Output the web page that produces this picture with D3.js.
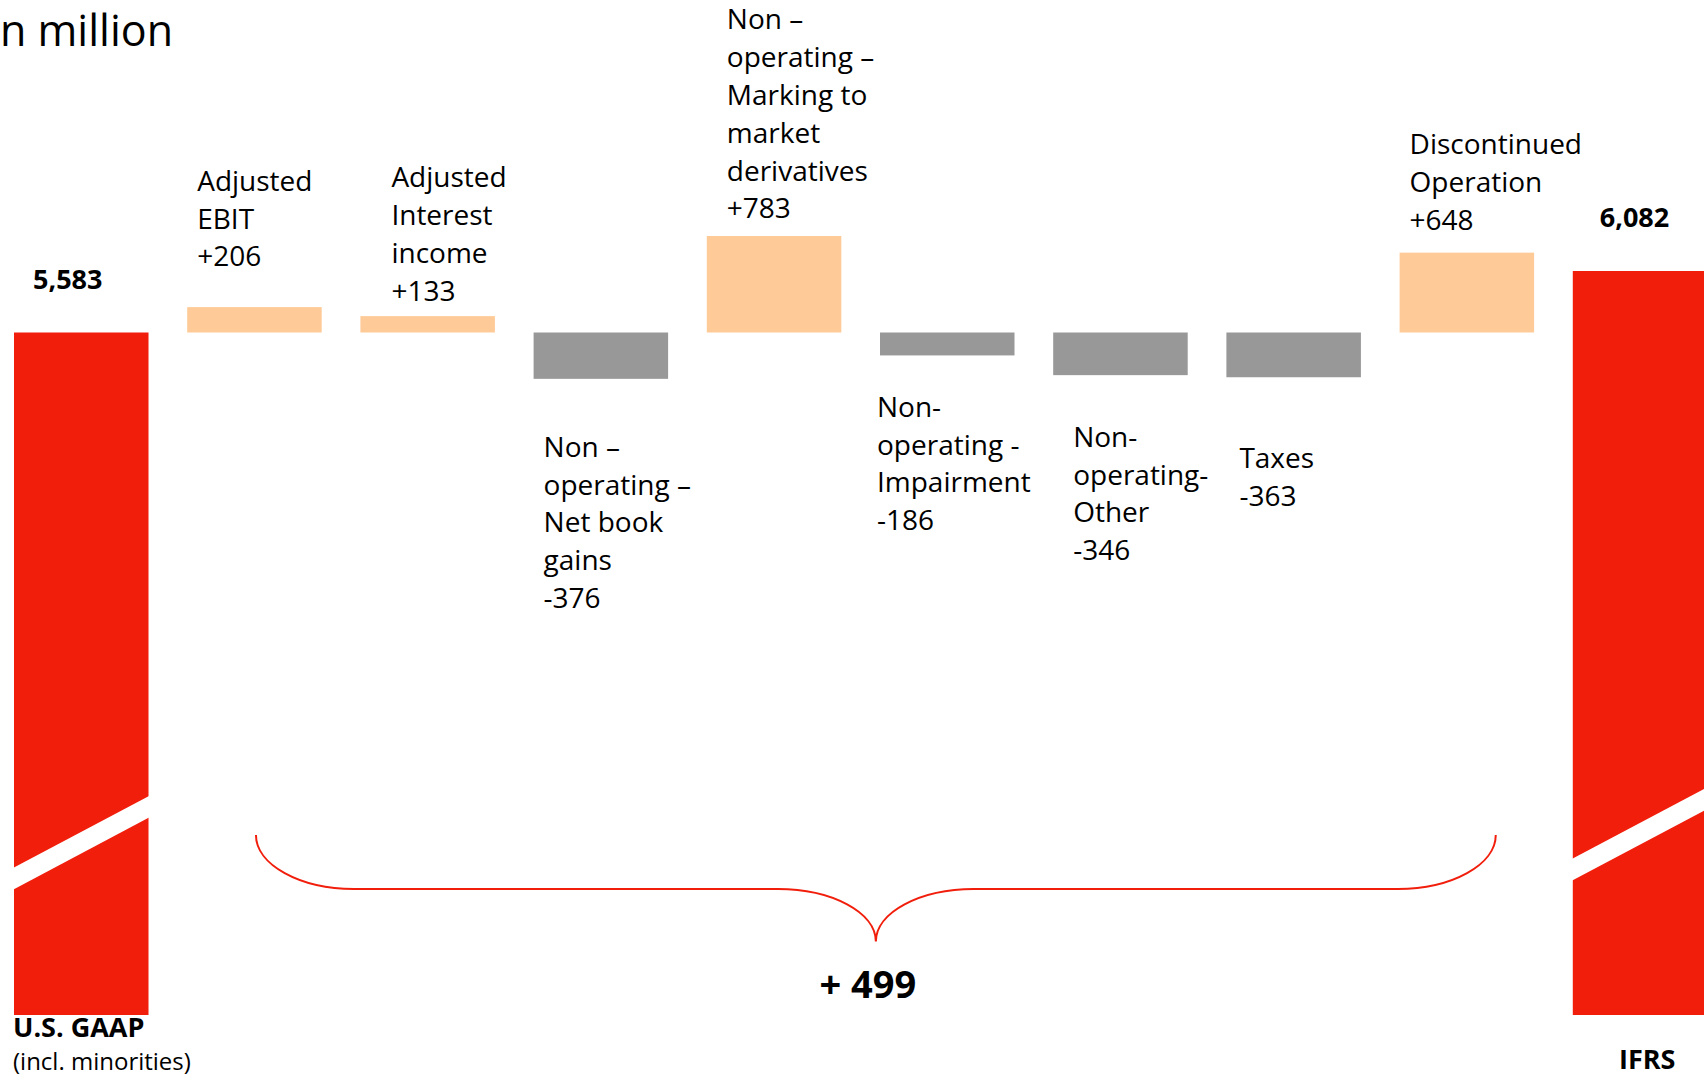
<!DOCTYPE html>
<html>
<head>
<meta charset="utf-8">
<script src="https://cdn.jsdelivr.net/npm/d3@7"></script>
<style>
  html, body { margin: 0; padding: 0; background: #fff; overflow: hidden; }
  svg { display: block; font-family: "Open Sans", "Noto Sans", sans-serif; }
</style>
</head>
<body>
<svg id="chart" width="1704" height="1077"></svg>
<script>
// Reconciliation values (EUR million)
const totalNames = ["U.S. GAAP", "IFRS"];
const totalNotes = ["(incl. minorities)", ""];
const totalValues = [5583, 6082];

const stepLabels = [
  ["Adjusted", "EBIT"],
  ["Adjusted", "Interest", "income"],
  ["Non –", "operating –", "Net book", "gains"],
  ["Non –", "operating –", "Marking to", "market", "derivatives"],
  ["Non-", "operating -", "Impairment"],
  ["Non-", "operating-", "Other"],
  ["Taxes"],
  ["Discontinued", "Operation"]
];
const stepValues = [206, 133, -376, 783, -186, -346, -363, 648];

// Colours
const RED = "#F11E0C", PEACH = "#FECB98", GREY = "#989898";

// Label layout: horizontal offset from the bar and first-line baseline
const labelDx = [10, 31, 10, 20, -3, 20, 13, 10];
const labelTop = [190.7, 187.3, 456.7, 29.3, 416.7, 446.7, 468.3, 154];
const lineGap = 37.8;

const svg = d3.select("#chart");

const slots = ["start"].concat(stepValues.map((_, i) => "s" + i), ["end"]);
const x = d3.scaleBand().domain(slots).range([14, 1707.3]).paddingInner(0.2234).paddingOuter(0);
const bw = x.bandwidth();

// Value scale around the starting total; the totals are drawn with a broken axis
const base = totalValues[0];
const y = d3.scaleLinear().domain([totalValues[0], totalValues[1]]).range([332.5, 271]);
const plotBottom = 1015;

// Title (partly outside the page on the left)
svg.append("text").attr("x", 0).attr("y", 45.5)
  .attr("font-size", 43).attr("fill", "#000").text("n million");

// Total bars
const totals = totalValues.map((v, i) => ({ v, name: totalNames[i], note: totalNotes[i], key: i === 0 ? "start" : "end" }));
svg.selectAll("rect.total").data(totals).join("rect")
  .attr("class", "total")
  .attr("x", d => x(d.key)).attr("width", bw)
  .attr("y", d => y(d.v)).attr("height", d => plotBottom - y(d.v))
  .attr("fill", RED);

// Axis-break stripes across the total bars
const breakOffset = [147, 156];
const breakThick = 21.7, breakSlope = 0.53;
svg.selectAll("path.break").data(totals).join("path")
  .attr("class", "break")
  .attr("d", (d, i) => {
    const x0 = x(d.key) - 1, x1 = x(d.key) + bw + 1;
    const yl = plotBottom - breakOffset[i];
    const yr = yl - breakSlope * (x1 - x0);
    return `M${x0},${yl}L${x1},${yr}L${x1},${yr + breakThick}L${x0},${yl + breakThick}Z`;
  })
  .attr("fill", "#fff");

// Total value labels
const fmt = d3.format(",");
const totalDx = [19, 27];
svg.selectAll("text.totalVal").data(totals).join("text")
  .attr("class", "totalVal")
  .attr("x", (d, i) => x(d.key) + totalDx[i]).attr("y", d => y(d.v) - 43.7)
  .attr("font-size", 27).attr("font-weight", 700).text(d => fmt(d.v));

// Total category labels
svg.append("text").attr("x", 13).attr("y", 1037)
  .attr("font-size", 27).attr("font-weight", 700).text(totalNames[0]);
svg.append("text").attr("x", 13).attr("y", 1069.5)
  .attr("font-size", 24).text(totalNotes[0]);
svg.append("text").attr("x", 1619).attr("y", 1069)
  .attr("font-size", 27).attr("font-weight", 700).text(totalNames[1]);

// Step bars, each hung from the starting level
const steps = stepValues.map((v, i) => ({ v, lines: stepLabels[i], key: "s" + i, i }));
svg.selectAll("rect.step").data(steps).join("rect")
  .attr("class", "step")
  .attr("x", d => x(d.key)).attr("width", bw)
  .attr("y", d => Math.min(y(base), y(base + d.v)))
  .attr("height", d => Math.abs(y(base + d.v) - y(base)))
  .attr("fill", d => d.v > 0 ? PEACH : GREY);

// Step labels
const signed = v => (v > 0 ? "+" : "-") + Math.abs(v);
const lbl = svg.selectAll("text.stepLbl").data(steps).join("text")
  .attr("class", "stepLbl")
  .attr("font-size", 28).attr("fill", "#000");
lbl.selectAll("tspan").data(d => d.lines.concat([signed(d.v)]).map(t => ({ t, d })))
  .join("tspan")
  .attr("x", p => x(p.d.key) + labelDx[p.d.i])
  .attr("y", (p, j) => labelTop[p.d.i] + j * lineGap)
  .text(p => p.t);

// Brace spanning the step bars
const bl = x("s0") + bw / 2 + 1.5;
const br = x("s" + (stepValues.length - 1)) + bw * 0.715;
const bTop = 835, bMid = 889, bTip = 941.5, bc = 98;
const tip = (bl + br) / 2;
const k = 0.552;
const brace = d3.path();
brace.moveTo(bl, bTop);
brace.bezierCurveTo(bl, bTop + k * (bMid - bTop), bl + bc - k * bc, bMid, bl + bc, bMid);
brace.lineTo(tip - bc, bMid);
brace.bezierCurveTo(tip - bc + k * bc, bMid, tip, bTip - k * (bTip - bMid), tip, bTip);
brace.bezierCurveTo(tip, bTip - k * (bTip - bMid), tip + bc - k * bc, bMid, tip + bc, bMid);
brace.lineTo(br - bc, bMid);
brace.bezierCurveTo(br - bc + k * bc, bMid, br, bTop + k * (bMid - bTop), br, bTop);
svg.append("path").attr("d", brace.toString())
  .attr("fill", "none").attr("stroke", RED).attr("stroke-width", 2);

// Net change under the brace
const net = d3.sum(stepValues);
svg.append("text").attr("x", tip - 8).attr("y", 998)
  .attr("text-anchor", "middle").attr("font-size", 38).attr("font-weight", 700)
  .text((net > 0 ? "+ " : "- ") + Math.abs(net));
</script>
</body>
</html>
